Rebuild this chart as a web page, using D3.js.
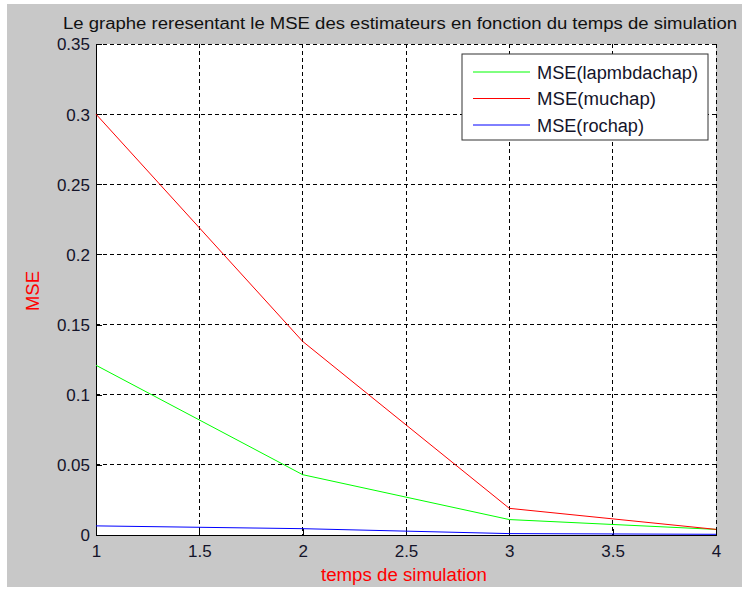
<!DOCTYPE html>
<html>
<head>
<meta charset="utf-8">
<script src="https://cdn.jsdelivr.net/npm/d3@7"></script>
<style>
  body { margin: 0; background: #fff; }
  text { font-family: "Liberation Sans", Arial, sans-serif; }
</style>
</head>
<body>
<div id="chart"></div>
<script>
// data
var temps = [1, 2, 3, 4];
var mseLambda = [0.121, 0.043, 0.011, 0.004];
var mseMu = [0.300, 0.138, 0.019, 0.004];
var mseRo = [0.0065, 0.0045, 0.001, 0.0005];
var xTicks = [1, 1.5, 2, 2.5, 3, 3.5, 4];
var yTicks = [0, 0.05, 0.1, 0.15, 0.2, 0.25, 0.3, 0.35];
var seriesNames = ["MSE(lapmbdachap)", "MSE(muchap)", "MSE(rochap)"];
var seriesColors = ["#00ff00", "#ff0000", "#0000ff"];

var W = 749, H = 589;
var margin = {top: 44, right: 33, bottom: 54, left: 96},
    width = 716 - margin.left,
    height = 535 - margin.top;

var svg = d3.select("#chart").append("svg")
    .attr("width", W).attr("height", H);

// figure background
svg.append("rect")
    .attr("x", 7).attr("y", 4)
    .attr("width", 735).attr("height", 583)
    .attr("fill", "#c8c8c8");

var g = svg.append("g")
    .attr("transform", "translate(" + margin.left + "," + margin.top + ")");

g.append("rect").attr("width", width).attr("height", height).attr("fill", "#fff");

var x = d3.scaleLinear().domain([1, 4]).range([0, width]);
var y = d3.scaleLinear().domain([0, 0.35]).range([height, 0]);

// grid
g.selectAll(".gx").data(xTicks.slice(1)).enter().append("line")
    .attr("x1", d => x(d)).attr("x2", d => x(d))
    .attr("y1", 0).attr("y2", height)
    .attr("stroke", "#000").attr("stroke-dasharray", "4,3").attr("shape-rendering", "crispEdges");
g.selectAll(".gy").data(yTicks.slice(1)).enter().append("line")
    .attr("x1", 0).attr("x2", width)
    .attr("y1", d => y(d)).attr("y2", d => y(d))
    .attr("stroke", "#000").attr("stroke-dasharray", "4,3").attr("shape-rendering", "crispEdges");

// axes
var xAxis = g.append("g").attr("transform", "translate(0," + height + ")")
    .call(d3.axisBottom(x).tickValues(xTicks).tickSize(-6).tickPadding(8).tickFormat(d3.format("")));
var yAxis = g.append("g")
    .call(d3.axisLeft(y).tickValues(yTicks).tickSize(-6).tickPadding(6).tickFormat(d => d === 0 ? "0" : String(d)));
[xAxis, yAxis].forEach(function(a) {
  a.select(".domain").attr("stroke", "#000").attr("shape-rendering", "crispEdges");
  a.selectAll(".tick line").attr("stroke", "#000").attr("shape-rendering", "crispEdges");
  a.selectAll("text").attr("font-size", "17px").attr("fill", "#14142a")
    .attr("font-family", "'Liberation Sans', Arial, sans-serif");
});
xAxis.selectAll("text").attr("dy", "0.85em");
yAxis.selectAll("text").attr("dy", "0.35em");

// lines
var series = [mseLambda, mseMu, mseRo];
var line = d3.line().x((d, i) => x(temps[i])).y(d => y(d));
series.forEach(function(s, k) {
  g.append("path").datum(s)
    .attr("d", line)
    .attr("fill", "none")
    .attr("stroke", seriesColors[k])
    .attr("stroke-width", 1);
});

// legend
var lg = svg.append("g").attr("transform", "translate(462,54)");
lg.append("rect").attr("width", 246).attr("height", 86)
    .attr("fill", "#fff").attr("stroke", "#333").attr("stroke-width", 1);
var legendWidths = [161, 119, 107];
seriesNames.forEach(function(n, k) {
  var yy = 18 + k * 26.5;
  lg.append("line").attr("x1", 11).attr("x2", 68).attr("y1", yy).attr("y2", yy)
    .attr("stroke", seriesColors[k]);
  lg.append("text").attr("x", 75).attr("y", yy + 6.5)
    .attr("font-size", "18px").attr("fill", "#14142a")
    .attr("textLength", legendWidths[k]).attr("lengthAdjust", "spacingAndGlyphs")
    .text(n);
});

// title and labels
svg.append("text").attr("x", 400).attr("y", 29)
    .attr("text-anchor", "middle").attr("font-size", "16px").attr("fill", "#111")
    .attr("textLength", 674).attr("lengthAdjust", "spacingAndGlyphs")
    .text("Le graphe reresentant le MSE des estimateurs en fonction du temps de simulation");
svg.append("text").attr("x", 404).attr("y", 581)
    .attr("text-anchor", "middle").attr("font-size", "18px").attr("fill", "#ff0000")
    .attr("textLength", 166).attr("lengthAdjust", "spacingAndGlyphs")
    .text("temps de simulation");
svg.append("text").attr("transform", "translate(39,291) rotate(-90)")
    .attr("text-anchor", "middle").attr("font-size", "18px").attr("fill", "#ff0000")
    .attr("textLength", 40).attr("lengthAdjust", "spacingAndGlyphs")
    .text("MSE");
</script>
</body>
</html>
